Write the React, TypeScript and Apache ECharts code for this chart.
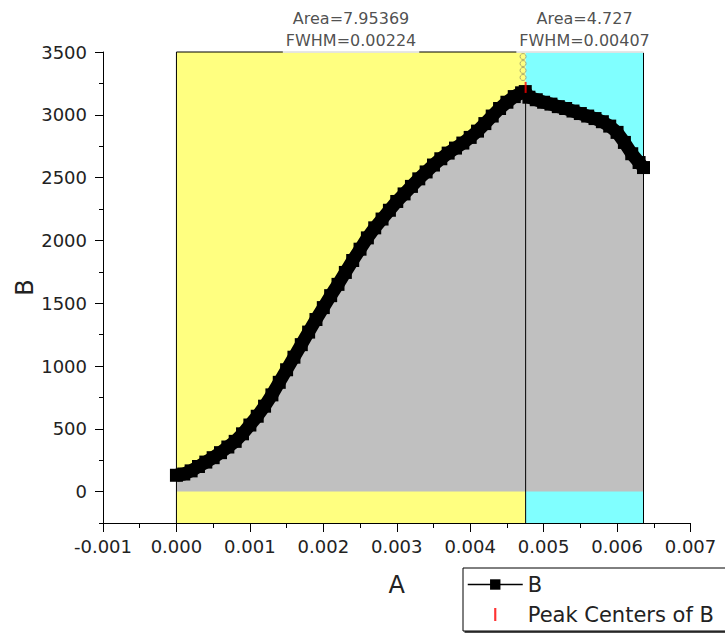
import React, { useEffect, useRef } from "react";
import * as echarts from "echarts";

// ---- data ----
const A = [
  0, 0.0001, 0.0002, 0.0003, 0.0004, 0.0005, 0.0006, 0.0007, 0.0008, 0.0009,
  0.001, 0.0011, 0.0012, 0.0013, 0.0014, 0.0015, 0.0016, 0.0017, 0.0018, 0.0019,
  0.002, 0.0021, 0.0022, 0.0023, 0.0024, 0.0025, 0.0026, 0.0027, 0.0028, 0.0029,
  0.003, 0.0031, 0.0032, 0.0033, 0.0034, 0.0035, 0.0036, 0.0037, 0.0038, 0.0039,
  0.004, 0.0041, 0.0042, 0.0043, 0.0044, 0.0045, 0.0046, 0.0047, 0.00475,
  0.0048, 0.0049, 0.005, 0.0051, 0.0052, 0.0053, 0.0054, 0.0055, 0.0056, 0.0057,
  0.0058, 0.0059, 0.006, 0.0061, 0.0062, 0.0063, 0.00636,
];
const B = [
  130, 140, 165, 200, 235, 270, 310, 355, 400, 460,
  530, 600, 680, 770, 870, 970, 1070, 1170, 1270, 1370,
  1465, 1560, 1650, 1745, 1840, 1930, 2020, 2100, 2170, 2240,
  2310, 2370, 2430, 2490, 2545, 2600, 2650, 2695, 2735, 2775,
  2820, 2870, 2930, 2990, 3050, 3100, 3145, 3175, 3185,
  3140, 3120, 3100, 3085, 3065, 3050, 3030, 3010, 2990, 2970,
  2945, 2910, 2860, 2780, 2690, 2620, 2580,
];

const regionStart = [0, 0.004755];
const regionEnd = [0.004755, 0.00636];
const regionColor = ["#ffff80", "#80ffff"];
const regionArea = ["7.95369", "4.727"];
const regionFWHM = ["0.00224", "0.00407"];

const peakCenterX = [0.004755];
const peakCenterY = [3218];
const peakTopY = [3185];
const leaderX = [0.00472, 0.00472, 0.00472, 0.00472];
const leaderY = [3464, 3408, 3353, 3297];

const X_MIN = -0.001;
const X_MAX = 0.007;
const X_STEP = 0.001;
const Y_MIN = -250;
const Y_MAX = 3500;
const yTicks = [0, 500, 1000, 1500, 2000, 2500, 3000, 3500];
const yMinorTicks = [-250, 250, 750, 1250, 1750, 2250, 2750, 3250];

const FONT = "DejaVu Sans";
const TXT = "#222";

export default function App() {
  const ref = useRef<HTMLDivElement>(null);
  useEffect(() => {
    if (!ref.current) return;
    const chart = echarts.init(ref.current, null, { renderer: "svg" });
    const curve = A.map((x, i) => [x, B[i]]);
    const option: any = {
      animation: false,
      backgroundColor: "#fff",
      textStyle: { fontFamily: FONT },
      grid: {
        left: 103,
        top: 52,
        right: 34.5,
        bottom: 110,
        containLabel: false,
        outerBoundsMode: "none",
      },
      legend: {
        orient: "vertical",
        left: 463,
        top: 568,
        data: [
          { name: "B" },
          { name: "Peak Centers of B", icon: "path://M0 0H1V6H0Z" },
        ],
        itemWidth: 55,
        itemHeight: 13,
        itemGap: 9,
        padding: [6, 200, 6, 4],
        borderColor: "#000",
        borderWidth: 1,
        backgroundColor: "#fff",
        shadowColor: "rgba(0,0,0,0.7)",
        shadowOffsetX: 2,
        shadowOffsetY: 2,
        shadowBlur: 0,
        lineStyle: { width: 1.5 },
        textStyle: { fontSize: 21, color: TXT, fontFamily: FONT },
      },
      xAxis: {
        type: "value",
        min: X_MIN,
        max: X_MAX,
        interval: X_STEP,
        name: "A",
        nameLocation: "middle",
        nameGap: 50,
        nameMoveOverlap: false,
        nameTextStyle: { fontSize: 24, color: TXT, fontFamily: FONT },
        axisLine: { onZero: false, lineStyle: { color: "#000", width: 1 } },
        axisTick: { inside: false, length: 9, lineStyle: { color: "#000" } },
        minorTick: { show: true, splitNumber: 2, length: 5, lineStyle: { color: "#000" } },
        splitLine: { show: false },
        axisLabel: {
          margin: 14,
          fontSize: 18,
          color: TXT,
          fontFamily: FONT,
          showMinLabel: true,
          showMaxLabel: true,
          formatter: (v: number) => (Math.abs(v) < 1e-12 ? "0.000" : v.toFixed(3)),
        },
      },
      yAxis: [
        {
          type: "value",
          min: Y_MIN,
          max: Y_MAX,
          name: "B",
          nameLocation: "middle",
          nameGap: 66,
          nameRotate: 90,
          nameMoveOverlap: false,
          nameTextStyle: { fontSize: 24, color: TXT, fontFamily: FONT },
          axisLine: { show: true, onZero: false, lineStyle: { color: "#000", width: 1 } },
          axisTick: { show: true, length: 8, customValues: yTicks, lineStyle: { color: "#000" } },
          splitLine: { show: false },
          axisLabel: {
            margin: 16,
            fontSize: 18,
            color: TXT,
            fontFamily: FONT,
            customValues: yTicks,
            formatter: (v: number) => String(v),
          },
        },
        {
          type: "value",
          min: Y_MIN,
          max: Y_MAX,
          position: "left",
          axisLine: { show: false, onZero: false },
          axisTick: { show: true, length: 4, customValues: yMinorTicks, lineStyle: { color: "#000" } },
          splitLine: { show: false },
          axisLabel: { show: false },
        },
      ],
      series: [
        {
          name: "regions",
          type: "line",
          data: [],
          z: 1,
          silent: true,
          markArea: {
            silent: true,
            itemStyle: { borderWidth: 0 },
            data: regionStart.map((s, i) => [
              { xAxis: s, yAxis: Y_MIN, itemStyle: { color: regionColor[i], opacity: 1 } },
              { xAxis: regionEnd[i], yAxis: Y_MAX },
            ]),
          },
        },
        {
          name: "B",
          type: "line",
          data: curve,
          z: 2,
          color: "#000",
          symbol: "rect",
          symbolSize: 13,
          showAllSymbol: true,
          itemStyle: { color: "#000" },
          lineStyle: { color: "#000", width: 13 },
          areaStyle: { color: "#c0c0c0", opacity: 1 },
          clip: false,
        },
        {
          name: "outline",
          type: "line",
          data: [
            [regionStart[0], Y_MIN],
            [regionStart[0], Y_MAX],
            [regionEnd[regionEnd.length - 1], Y_MAX],
            [regionEnd[regionEnd.length - 1], Y_MIN],
          ],
          symbol: "none",
          lineStyle: { color: "#000", width: 1 },
          z: 3,
          clip: false,
          silent: true,
        },
        {
          name: "peakLine",
          type: "line",
          data: [
            [peakCenterX[0], Y_MIN],
            [peakCenterX[0], peakTopY[0]],
          ],
          symbol: "none",
          lineStyle: { color: "#000", width: 1 },
          z: 3,
          silent: true,
        },
        {
          name: "leader",
          type: "scatter",
          data: leaderX.map((x, i) => [x, leaderY[i]]),
          symbol: "circle",
          symbolSize: 6,
          itemStyle: { color: "rgba(0,0,0,0)", borderColor: "#9a9a6a", borderWidth: 1 },
          z: 4,
          silent: true,
        },
        {
          name: "Peak Centers of B",
          type: "scatter",
          data: peakCenterX.map((x, i) => [x, peakCenterY[i]]),
          symbol: "rect",
          symbolSize: [2, 11],
          itemStyle: { color: "#ff0000" },
          color: "#ff0000",
          z: 5,
        },
        {
          name: "labels",
          type: "scatter",
          symbolSize: 0,
          z: 10,
          silent: true,
          clip: false,
          data: regionStart.map((s, i) => ({
            value: [(s + regionEnd[i]) / 2, Y_MAX],
            label: {
              show: true,
              position: "top",
              distance: -1,
              formatter: `Area=${regionArea[i]}\nFWHM=${regionFWHM[i]}`,
              backgroundColor: "#fff",
              padding: [0, 3, 2, 3],
              lineHeight: 22,
              fontSize: 16,
              color: TXT,
              fontFamily: FONT,
              align: "center",
            },
          })),
        },
      ],
    };
    chart.setOption(option);
    return () => chart.dispose();
  }, []);
  return (
    <div
      ref={ref}
      style={{ position: "fixed", left: 0, top: 0, width: 725, height: 633, background: "#fff" }}
    />
  );
}
